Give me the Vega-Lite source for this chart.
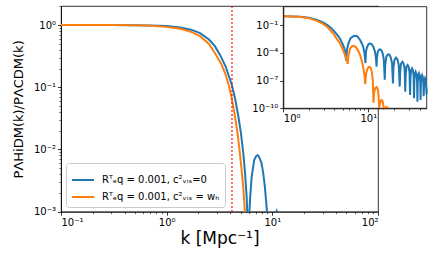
{
  "$schema": "https://vega.github.io/schema/vega-lite/v6.json",
  "width": 317,
  "height": 205.7,
  "autosize": {"type": "none"},
  "padding": {"left": 61, "top": 6, "right": 55, "bottom": 49.3},
  "config": {
    "font": "DejaVu Sans",
    "view": {"stroke": "#000", "strokeWidth": 0.8},
    "axis": {
      "domainColor": "#000", "domainWidth": 0.8, "tickColor": "#000", "tickWidth": 0.8,
      "tickSize": 3.5, "labelFontSize": 10, "labelColor": "#000", "labelPadding": 2,
      "grid": false, "titleFontWeight": "normal", "titleColor": "#000",
      "labelFont": "DejaVu Sans", "titleFont": "DejaVu Sans"
    }
  },
  "datasets": {
    "one": [{}],
    "main": [
      {"k":0.1,"P":1,"s":"a"},{"k":0.2,"P":0.999,"s":"a"},{"k":0.3,"P":0.998,"s":"a"},{"k":0.5,"P":0.993,"s":"a"},
      {"k":0.7,"P":0.984,"s":"a"},{"k":1.0,"P":0.966,"s":"a"},{"k":1.34,"P":0.912,"s":"a"},{"k":1.7,"P":0.841,"s":"a"},
      {"k":2.07,"P":0.741,"s":"a"},{"k":2.5,"P":0.589,"s":"a"},{"k":2.86,"P":0.457,"s":"a"},{"k":3.2,"P":0.331,"s":"a"},
      {"k":3.6,"P":0.219,"s":"a"},{"k":4.12,"P":0.112,"s":"a"},{"k":4.45,"P":0.0646,"s":"a"},{"k":4.77,"P":0.0339,"s":"a"},
      {"k":5.05,"P":0.0182,"s":"a"},{"k":5.31,"P":0.00871,"s":"a"},{"k":5.5,"P":0.00447,"s":"a"},{"k":5.71,"P":0.00178,"s":"a"},
      {"k":5.85,"P":0.00063,"s":"a"},{"k":5.95,"P":0.000063,"s":"a"},{"k":6.05,"P":0.000891,"s":"a"},{"k":6.15,"P":0.00158,"s":"a"},
      {"k":6.37,"P":0.00363,"s":"a"},{"k":6.74,"P":0.00676,"s":"a"},{"k":7.0,"P":0.00776,"s":"a"},{"k":7.26,"P":0.00813,"s":"a"},
      {"k":7.5,"P":0.00759,"s":"a"},{"k":7.9,"P":0.00603,"s":"a"},{"k":8.2,"P":0.00417,"s":"a"},{"k":8.5,"P":0.00251,"s":"a"},
      {"k":8.75,"P":0.00141,"s":"a"},{"k":8.95,"P":0.000891,"s":"a"},{"k":9.1,"P":0.000316,"s":"a"},{"k":9.2,"P":0.00001,"s":"a"},
      {"k":9.4,"P":0.0001,"s":"a"},{"k":10.0,"P":0.0005,"s":"a"},{"k":10.7,"P":0.000933,"s":"a"},{"k":11.0,"P":0.001035,"s":"a"},
      {"k":11.3,"P":0.000933,"s":"a"},{"k":12.0,"P":0.0005,"s":"a"},
      {"k":0.1,"P":1,"s":"b"},{"k":0.2,"P":0.999,"s":"b"},{"k":0.3,"P":0.997,"s":"b"},{"k":0.5,"P":0.991,"s":"b"},
      {"k":0.7,"P":0.977,"s":"b"},{"k":1.0,"P":0.933,"s":"b"},{"k":1.34,"P":0.871,"s":"b"},{"k":1.7,"P":0.776,"s":"b"},
      {"k":2.07,"P":0.661,"s":"b"},{"k":2.5,"P":0.501,"s":"b"},{"k":2.86,"P":0.355,"s":"b"},{"k":3.3,"P":0.234,"s":"b"},
      {"k":3.6,"P":0.162,"s":"b"},{"k":3.83,"P":0.115,"s":"b"},{"k":4.12,"P":0.0676,"s":"b"},{"k":4.43,"P":0.0339,"s":"b"},
      {"k":4.7,"P":0.0174,"s":"b"},{"k":4.93,"P":0.00871,"s":"b"},{"k":5.1,"P":0.00501,"s":"b"},{"k":5.3,"P":0.00251,"s":"b"},
      {"k":5.5,"P":0.001,"s":"b"},{"k":5.6,"P":0.000398,"s":"b"},{"k":5.7,"P":0.00001,"s":"b"}
    ],
    "inset": [
      {"k":1.0,"P":0.933,"s":"a"},{"k":1.3,"P":0.891,"s":"a"},{"k":1.6,"P":0.794,"s":"a"},{"k":2.0,"P":0.631,"s":"a"},
      {"k":2.44,"P":0.398,"s":"a"},{"k":2.9,"P":0.209,"s":"a"},{"k":3.3,"P":0.1,"s":"a"},{"k":3.7,"P":0.0447,"s":"a"},
      {"k":4.1,"P":0.0158,"s":"a"},{"k":4.4,"P":0.00708,"s":"a"},{"k":4.7,"P":0.00282,"s":"a"},{"k":5.0,"P":0.000891,"s":"a"},
      {"k":5.2,"P":0.000355,"s":"a"},{"k":5.35,"P":0.000126,"s":"a"},{"k":5.47,"P":1.58e-5,"s":"a"},{"k":5.62,"P":0.000251,"s":"a"},
      {"k":5.85,"P":0.00112,"s":"a"},{"k":6.2,"P":0.00398,"s":"a"},{"k":6.8,"P":0.00708,"s":"a"},{"k":7.4,"P":0.00631,"s":"a"},
      {"k":8.0,"P":0.00251,"s":"a"},{"k":8.36,"P":0.00112,"s":"a"},{"k":8.7,"P":0.000447,"s":"a"},{"k":8.96,"P":0.000132,"s":"a"},
      {"k":9.25,"P":7.94e-6,"s":"a"},{"k":9.4,"P":0.000126,"s":"a"},{"k":9.56,"P":0.000316,"s":"a"},{"k":10.0,"P":0.000832,"s":"a"},
      {"k":10.4,"P":0.00105,"s":"a"},{"k":11.0,"P":0.000832,"s":"a"},{"k":11.5,"P":0.000447,"s":"a"},{"k":12.0,"P":0.000126,"s":"a"},
      {"k":12.3,"P":2.51e-5,"s":"a"},{"k":12.5,"P":3.16e-6,"s":"a"},{"k":12.65,"P":3.16e-5,"s":"a"},{"k":12.95,"P":0.000141,"s":"a"},
      {"k":13.4,"P":0.000224,"s":"a"},{"k":13.8,"P":0.00024,"s":"a"},{"k":14.3,"P":0.000178,"s":"a"},{"k":14.8,"P":7.94e-5,"s":"a"},
      {"k":15.25,"P":1.58e-5,"s":"a"},{"k":15.6,"P":1.26e-7,"s":"a"},{"k":15.8,"P":5.01e-6,"s":"a"},{"k":16.3,"P":3.98e-5,"s":"a"},
      {"k":17.0,"P":6.61e-5,"s":"a"},{"k":17.6,"P":6.61e-5,"s":"a"},{"k":18.3,"P":3.55e-5,"s":"a"},{"k":19.0,"P":7.94e-6,"s":"a"},
      {"k":19.5,"P":5.01e-8,"s":"a"},{"k":19.75,"P":2.51e-6,"s":"a"},{"k":20.3,"P":1.78e-5,"s":"a"},{"k":21.2,"P":3.02e-5,"s":"a"},
      {"k":22.0,"P":2.0e-5,"s":"a"},{"k":22.8,"P":5.01e-6,"s":"a"},{"k":23.4,"P":2.24e-8,"s":"a"},{"k":23.7,"P":1e-6,"s":"a"},
      {"k":24.3,"P":7.08e-6,"s":"a"},{"k":25.2,"P":1.12e-5,"s":"a"},{"k":26.0,"P":7.08e-6,"s":"a"},{"k":26.7,"P":2.0e-6,"s":"a"},
      {"k":27.2,"P":6.31e-9,"s":"a"},{"k":27.5,"P":3.98e-7,"s":"a"},{"k":28.1,"P":3.16e-6,"s":"a"},{"k":29.0,"P":4.9e-6,"s":"a"},
      {"k":29.8,"P":3.16e-6,"s":"a"},{"k":30.5,"P":7.94e-7,"s":"a"},{"k":31.0,"P":2.82e-9,"s":"a"},{"k":31.3,"P":2.0e-7,"s":"a"},
      {"k":31.9,"P":1.41e-6,"s":"a"},{"k":32.7,"P":2.14e-6,"s":"a"},{"k":33.5,"P":1.26e-6,"s":"a"},{"k":34.1,"P":3.16e-7,"s":"a"},
      {"k":34.5,"P":1.26e-9,"s":"a"},{"k":34.8,"P":7.94e-8,"s":"a"},{"k":35.3,"P":6.31e-7,"s":"a"},{"k":36.0,"P":9.33e-7,"s":"a"},
      {"k":36.8,"P":5.62e-7,"s":"a"},{"k":37.4,"P":1.26e-7,"s":"a"},{"k":37.8,"P":5.01e-10,"s":"a"},{"k":38.1,"P":5.01e-8,"s":"a"},
      {"k":38.7,"P":3.98e-7,"s":"a"},{"k":39.4,"P":6.17e-7,"s":"a"},{"k":40.2,"P":3.55e-7,"s":"a"},{"k":40.8,"P":7.94e-8,"s":"a"},
      {"k":41.2,"P":7.94e-10,"s":"a"},{"k":41.5,"P":3.16e-8,"s":"a"},{"k":42.1,"P":2.51e-7,"s":"a"},{"k":42.9,"P":4.07e-7,"s":"a"},
      {"k":43.7,"P":2.51e-7,"s":"a"},{"k":44.4,"P":5.01e-8,"s":"a"},{"k":44.8,"P":2.0e-9,"s":"a"},{"k":45.1,"P":1.58e-8,"s":"a"},
      {"k":45.7,"P":1.12e-7,"s":"a"},{"k":46.4,"P":1.78e-7,"s":"a"},{"k":47.2,"P":1.12e-7,"s":"a"},{"k":47.9,"P":2.51e-8,"s":"a"},
      {"k":48.4,"P":3.16e-9,"s":"a"},{"k":48.6,"P":1.26e-8,"s":"a"},
      {"k":1.0,"P":0.923,"s":"b"},{"k":1.3,"P":0.871,"s":"b"},{"k":1.6,"P":0.759,"s":"b"},{"k":2.0,"P":0.575,"s":"b"},
      {"k":2.44,"P":0.316,"s":"b"},{"k":2.9,"P":0.148,"s":"b"},{"k":3.3,"P":0.0631,"s":"b"},{"k":3.87,"P":0.0126,"s":"b"},
      {"k":4.2,"P":0.00398,"s":"b"},{"k":4.64,"P":0.00107,"s":"b"},{"k":5.0,"P":0.000251,"s":"b"},{"k":5.3,"P":6.31e-5,"s":"b"},
      {"k":5.5,"P":2.51e-5,"s":"b"},{"k":5.72,"P":6.31e-6,"s":"b"},{"k":5.87,"P":6.31e-5,"s":"b"},{"k":6.1,"P":0.000282,"s":"b"},
      {"k":6.4,"P":0.000501,"s":"b"},{"k":6.7,"P":0.000589,"s":"b"},{"k":7.1,"P":0.000447,"s":"b"},{"k":7.6,"P":0.000178,"s":"b"},
      {"k":8.0,"P":5.62e-5,"s":"b"},{"k":8.4,"P":1.26e-5,"s":"b"},{"k":8.76,"P":2.14e-6,"s":"b"},{"k":9.0,"P":3.98e-7,"s":"b"},
      {"k":9.2,"P":3.98e-8,"s":"b"},{"k":9.4,"P":5.01e-7,"s":"b"},{"k":9.7,"P":1.58e-6,"s":"b"},{"k":10.0,"P":2.82e-6,"s":"b"},
      {"k":10.3,"P":3.16e-6,"s":"b"},{"k":10.7,"P":2.24e-6,"s":"b"},{"k":11.0,"P":7.94e-7,"s":"b"},{"k":11.3,"P":1e-7,"s":"b"},
      {"k":11.5,"P":3.98e-10,"s":"b"},{"k":11.7,"P":5.01e-9,"s":"b"},{"k":12.1,"P":1.58e-8,"s":"b"},{"k":12.5,"P":2.0e-8,"s":"b"},
      {"k":12.9,"P":1.26e-8,"s":"b"},{"k":13.2,"P":2.51e-9,"s":"b"},{"k":13.4,"P":1e-10,"s":"b"},{"k":13.6,"P":2.51e-10,"s":"b"},
      {"k":14.0,"P":6.31e-10,"s":"b"},{"k":14.4,"P":7.94e-10,"s":"b"},{"k":14.8,"P":5.01e-10,"s":"b"},{"k":15.1,"P":1.58e-10,"s":"b"},
      {"k":15.3,"P":1e-10,"s":"b"},{"k":15.9,"P":1.26e-10,"s":"b"},{"k":16.4,"P":1.41e-10,"s":"b"},{"k":16.8,"P":1.17e-10,"s":"b"},
      {"k":17.1,"P":1e-10,"s":"b"}
    ]
  },
  "layer": [
    {
      "layer": [
        {
          "data": {"name": "main"},
          "mark": {"type": "line", "strokeWidth": 2, "clip": true},
          "encoding": {
            "x": {"field": "k", "type": "quantitative",
              "scale": {"type": "log", "domain": [0.1, 100], "nice": false},
              "axis": {"orient": "bottom", "values": [0.1, 1, 10, 100],
                "labelExpr": "datum.value < 0.5 ? '10⁻¹' : datum.value < 5 ? '10⁰' : datum.value < 50 ? '10¹' : '10²'",
                "title": "k [Mpc⁻¹]", "titleFontSize": 17, "titlePadding": 3}},
            "y": {"field": "P", "type": "quantitative",
              "scale": {"type": "log", "domain": [0.001, 2.02], "nice": false},
              "axis": {"orient": "left", "values": [0.001, 0.01, 0.1, 1],
                "labelExpr": "datum.value < 0.005 ? '10⁻³' : datum.value < 0.05 ? '10⁻²' : datum.value < 0.5 ? '10⁻¹' : '10⁰'",
                "title": "PΛHiDM(k)/PΛCDM(k)", "titleFontSize": 13, "titlePadding": 8}},
            "color": {"field": "s", "type": "nominal",
              "scale": {"domain": ["a", "b"], "range": ["#1f77b4", "#ff7f0e"]},
              "legend": {"orient": "bottom-left", "offset": 5, "title": null, "symbolType": "stroke",
                "symbolSize": 484, "symbolStrokeWidth": 2, "labelFontSize": 10, "labelOffset": 7,
                "labelExpr": "datum.label == 'a' ? 'Rᵀₑq = 0.001, c²ᵥᵢₛ=0' : 'Rᵀₑq = 0.001, c²ᵥᵢₛ = wₕ'",
                "fillColor": "rgba(255,255,255,0.8)", "strokeColor": "#cccccc", "cornerRadius": 3,
                "padding": 5, "rowPadding": 0}}
          }
        },
        {
          "data": {"name": "one"},
          "mark": {"type": "rule", "color": "red", "strokeWidth": 1.5, "strokeDash": [1.5, 2.5]},
          "encoding": {
            "x": {"datum": 4.15, "type": "quantitative",
              "scale": {"type": "log", "domain": [0.1, 100], "nice": false},
              "axis": {"orient": "bottom", "values": [0.2,0.3,0.4,0.5,0.6,0.7,0.8,0.9,2,3,4,5,6,7,8,9,20,30,40,50,60,70,80,90],
                "labels": false, "tickSize": 2, "tickWidth": 0.6, "domain": false, "title": null}},
            "y": {"datum": 0.001, "type": "quantitative",
              "scale": {"type": "log", "domain": [0.001, 2.02], "nice": false},
              "axis": {"orient": "left", "values": [0.002,0.003,0.004,0.005,0.006,0.007,0.008,0.009,0.02,0.03,0.04,0.05,0.06,0.07,0.08,0.09,0.2,0.3,0.4,0.5,0.6,0.7,0.8,0.9,2],
                "labels": false, "tickSize": 2, "tickWidth": 0.6, "domain": false, "title": null}},
            "y2": {"datum": 2.02}
          }
        }
      ],
      "resolve": {"axis": {"x": "independent", "y": "independent"}}
    },
    {
      "layer": [
        {
          "data": {"name": "one"},
          "mark": {"type": "rect", "fill": "white", "stroke": "#000", "strokeWidth": 0.8},
          "encoding": {
            "x": {"datum": 1, "type": "quantitative",
              "scale": {"type": "log", "domain": [1, 48.6], "nice": false, "range": [222.3, 365.7]},
              "axis": {"orient": "bottom", "offset": -103.4, "zindex": 1,
                "values": [2,3,4,5,6,7,8,9,20,30,40],
                "labels": false, "tickSize": 2, "tickWidth": 0.6, "domain": false, "title": null}},
            "x2": {"datum": 48.6},
            "y": {"datum": 1e-10, "type": "quantitative",
              "scale": {"type": "log", "domain": [1e-10, 10], "nice": false, "range": [102.3, 0.7]},
              "axis": {"orient": "left", "offset": -222.3, "zindex": 1,
                "values": [1e-10, 1e-7, 1e-4, 0.1],
                "labelExpr": "datum.value < 1e-8 ? '10⁻¹⁰' : datum.value < 1e-5 ? '10⁻⁷' : datum.value < 0.01 ? '10⁻⁴' : '10⁻¹'",
                "title": null}},
            "y2": {"datum": 10}
          }
        },
        {
          "data": {"name": "inset"},
          "mark": {"type": "line", "strokeWidth": 2},
          "encoding": {
            "x": {"field": "k", "type": "quantitative",
              "scale": {"type": "log", "domain": [1, 48.6], "nice": false, "range": [222.3, 365.7]},
              "axis": {"orient": "bottom", "offset": -103.4, "zindex": 1, "values": [1, 10],
                "labelExpr": "datum.value < 5 ? '10⁰' : '10¹'", "title": null}},
            "y": {"field": "P", "type": "quantitative",
              "scale": {"type": "log", "domain": [1e-10, 10], "nice": false, "range": [102.3, 0.7]},
              "axis": {"orient": "left", "offset": -222.3, "zindex": 1,
                "values": [1e-10, 1e-7, 1e-4, 0.1],
                "labelExpr": "datum.value < 1e-8 ? '10⁻¹⁰' : datum.value < 1e-5 ? '10⁻⁷' : datum.value < 0.01 ? '10⁻⁴' : '10⁻¹'",
                "title": null}},
            "color": {"field": "s", "type": "nominal",
              "scale": {"domain": ["a", "b"], "range": ["#1f77b4", "#ff7f0e"]},
              "legend": null}
          }
        }
      ],
      "resolve": {"axis": {"x": "independent"}}
    }
  ],
  "resolve": {"scale": {"x": "independent", "y": "independent", "color": "independent"}}
}
